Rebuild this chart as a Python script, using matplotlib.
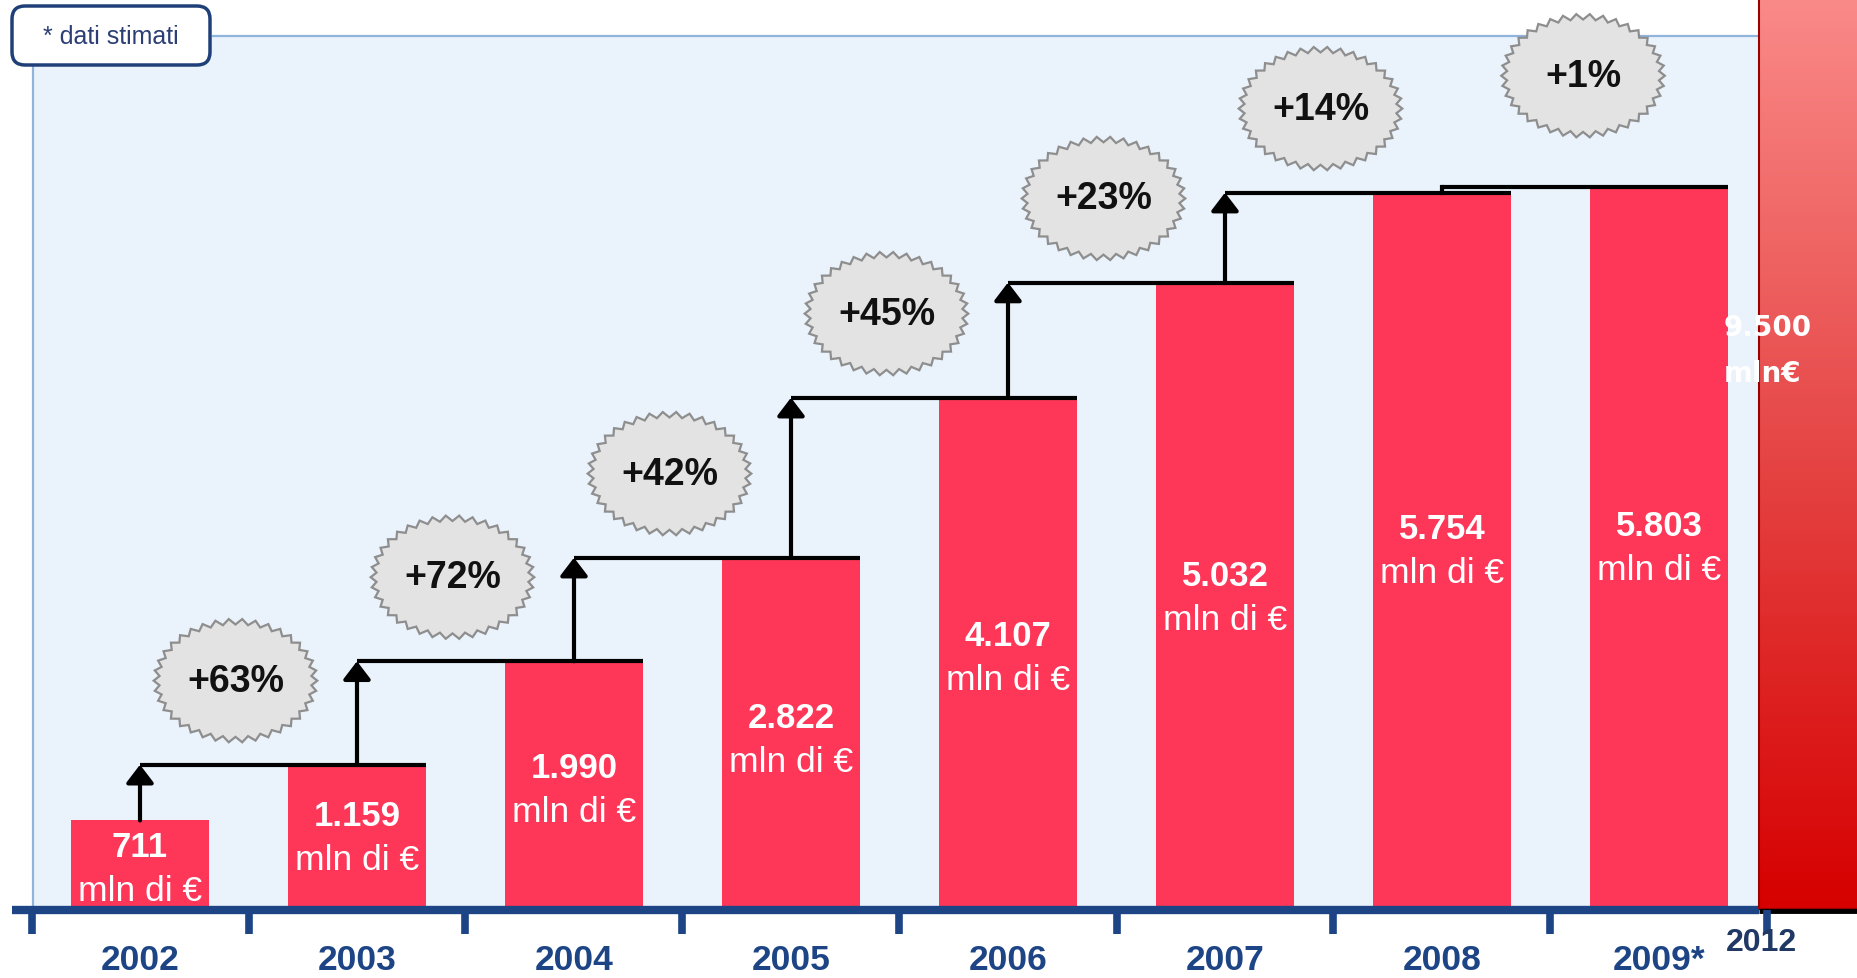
import numpy as np
import matplotlib
matplotlib.use("Agg")
import matplotlib.pyplot as plt
from matplotlib.patches import Rectangle, Polygon, FancyBboxPatch
from matplotlib.colors import LinearSegmentedColormap

plt.rcParams["font.family"] = ["Liberation Sans", "DejaVu Sans"]

# ---------- Data ----------
years = ["2002", "2003", "2004", "2005", "2006", "2007", "2008", "2009*"]
values = [711, 1159, 1990, 2822, 4107, 5032, 5754, 5803]   # mln di €
growth = ["+63%", "+72%", "+42%", "+45%", "+23%", "+14%", "+1%"]
target_year = "2012"
target_value = 9500
target_lines = ["9.500", "mln€"]
note = "* dati stimati"

# ---------- Style ----------
BAR = "#FE3658"
NAVY = "#1D4585"
PANEL = "#EAF2FB"
PANEL_EDGE = "#8FB4DE"
BURST_FC = "#E3E3E3"
BURST_EC = "#8E8E8E"

W, H = 1858, 979
fig = plt.figure(figsize=(W / 100, H / 100), dpi=100)
ax = fig.add_axes([0, 0, 1, 1])
ax.axis("off")

# layout helpers: pixel position -> data coords (x = category, y = mln €)
X0, DX = 140, 217      # centre of first bar, px per category
Y0, DY = 910, 0.1245   # baseline, px per mln €


def dx(px):
    return (px - X0) / DX


def dy(py):
    return (Y0 - py) / DY


x = np.arange(len(values))
bw = 0.64

# ---------- Background panel ----------
ax.add_patch(Rectangle((dx(33), 0), dx(1759) - dx(33), dy(37),
                       facecolor=PANEL, edgecolor="none", zorder=0))
ax.plot([dx(213), dx(1759)], [dy(37)] * 2, color=PANEL_EDGE, lw=1.6, zorder=1)
ax.plot([dx(33)] * 2, [dy(68), 0], color=PANEL_EDGE, lw=1.6, zorder=1)

# ---------- Bars ----------
ax.bar(x, values, width=bw, color=BAR, zorder=2)

for xi, v in zip(x, values):
    ytop = min(0.53 * v + 300 * np.exp(-v / 1500), v - 205)
    ax.text(xi, ytop, f"{v:,}".replace(",", "."), ha="center", va="center",
            color="white", fontsize=25, fontweight="bold", zorder=5)
    ax.text(xi, ytop - 44 / DY, "mln di €", ha="center", va="center",
            color="white", fontsize=25.5, zorder=5)

# ---------- Step lines + arrows ----------
for i in range(1, len(values)):
    ax.plot([i - 1, i + bw / 2], [values[i]] * 2, color="black", lw=3,
            solid_capstyle="butt", zorder=3)
    if values[i] - values[i - 1] > 200:
        ax.annotate("", xy=(i - 1, values[i]), xytext=(i - 1, values[i - 1]),
                    arrowprops=dict(arrowstyle="-|>,head_length=0.55,head_width=0.42",
                                    color="black", lw=3, shrinkA=0, shrinkB=0,
                                    mutation_scale=20),
                    zorder=3)
    else:
        ax.plot([i - 1] * 2, [values[i - 1], values[i]], color="black", lw=3,
                zorder=3)


# ---------- Growth bursts ----------
def burst(cx, cy, label):
    n = 76
    t = np.linspace(0, 2 * np.pi, n, endpoint=False)
    s = np.where(np.arange(n) % 2 == 0, 1.0, -1.0)
    xs = cx + (79 + 2.8 * s) * np.cos(t) / DX
    ys = cy + (59 + 2.8 * s) * np.sin(t) / DY
    ax.add_patch(Polygon(np.column_stack([xs, ys]), closed=True,
                         facecolor=BURST_FC, edgecolor=BURST_EC, lw=1.6,
                         joinstyle="miter", zorder=4))
    ax.text(cx, cy, label, ha="center", va="center", fontsize=27,
            fontweight="bold", color="#111111", zorder=5)


for i, g in enumerate(growth):
    if i == len(growth) - 1:
        burst(i + 0.65, values[i + 1] + 890, g)
    else:
        burst(i + 0.44, values[i + 1] + 675, g)

# ---------- Axis ----------
ax.plot([dx(12), dx(1759)], [dy(911)] * 2, color=NAVY, lw=6,
        solid_capstyle="butt", zorder=5)
for k in range(len(values) + 1):
    ax.plot([k - 0.5] * 2, [dy(911), dy(935)], color=NAVY, lw=5.5,
            solid_capstyle="butt", zorder=7)
for xi, yr in zip(x, years):
    ax.text(xi, dy(961), yr, ha="center", va="center", fontsize=25.5,
            fontweight="bold", color=NAVY, zorder=5)

# ---------- 2012 target bar (gradient, runs off the frame) ----------
x_left = dx(1759)
grad = np.linspace(0, 1, 256).reshape(-1, 1)
cmap = LinearSegmentedColormap.from_list("tgt", ["#D60000", "#E64646", "#FA8C8A"])
ax.imshow(grad, extent=[x_left, x_left + 1, 0, target_value * 0.78],
          origin="lower", cmap=cmap, aspect="auto", zorder=6)
ax.add_patch(Rectangle((x_left, 0), 1, target_value, fill=False,
                       edgecolor="#9A0000", lw=1.5, zorder=6.5))
ax.plot([x_left, x_left + 1], [dy(912)] * 2, color="black", lw=3.5,
        solid_capstyle="butt", zorder=6.6)
ax.text(dx(1724), dy(328), target_lines[0], ha="left", va="center",
        color="white", fontsize=20, fontweight="bold", family="DejaVu Sans",
        zorder=7)
ax.text(dx(1724), dy(374), target_lines[1], ha="left", va="center",
        color="white", fontsize=20, fontweight="bold", family="DejaVu Sans",
        zorder=7)
ax.text(dx(1761), dy(943), target_year, ha="center", va="center",
        color="#1F3864", fontsize=23, fontweight="bold",
        family="Liberation Sans", zorder=8)

ax.set_xlim(dx(0), dx(W))
ax.set_ylim(dy(H), dy(0))

# ---------- Note box (pixel overlay) ----------
ov = fig.add_axes([0, 0, 1, 1])
ov.set_xlim(0, W)
ov.set_ylim(H, 0)
ov.axis("off")
ov.add_patch(FancyBboxPatch((12, 7), 198, 59,
                            boxstyle="round,pad=0,rounding_size=13",
                            facecolor="white", edgecolor="#1E3F78", lw=2.5))
ov.text(111, 37, note, ha="center", va="center", fontsize=18,
        color="#2B3F75")

fig.savefig("out.png", dpi=100)
